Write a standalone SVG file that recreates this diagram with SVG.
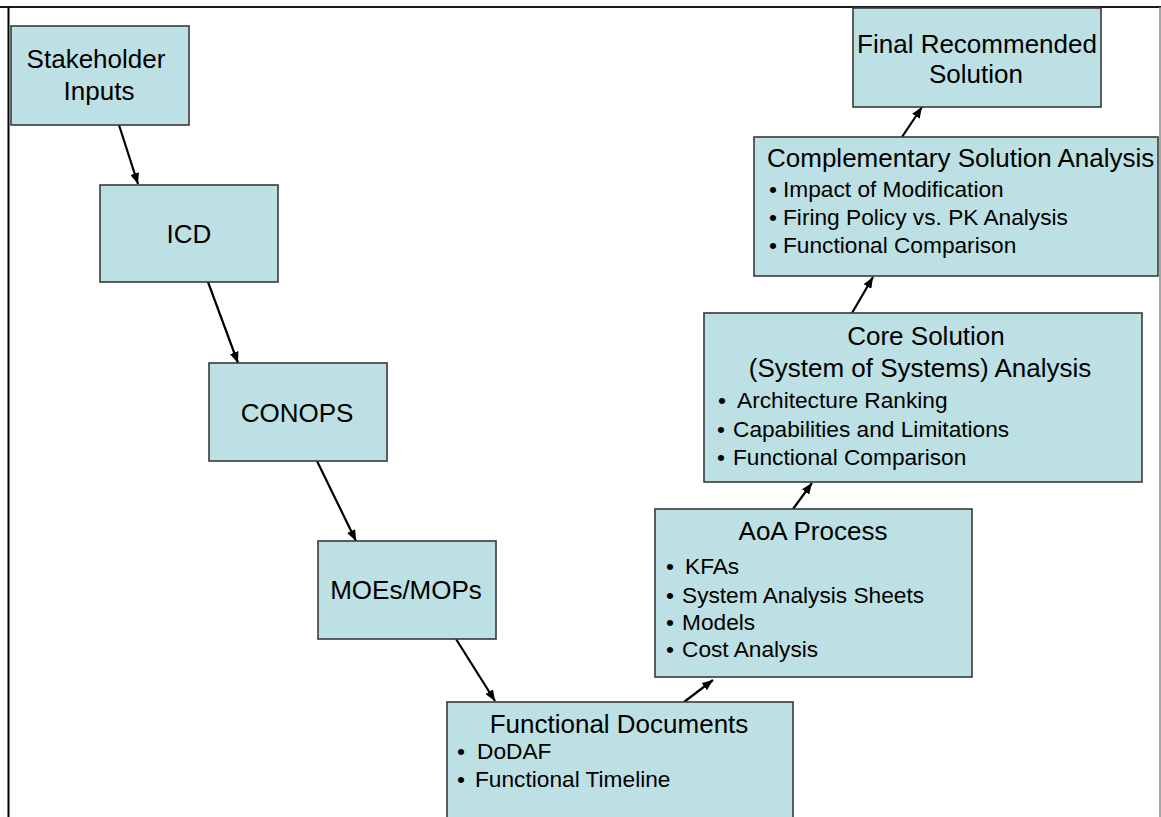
<svg xmlns="http://www.w3.org/2000/svg" width="1161" height="817" viewBox="0 0 1161 817">
  <defs>
    <marker id="arrow" viewBox="0 0 11 9" refX="11" refY="4.5" markerWidth="11" markerHeight="9" markerUnits="userSpaceOnUse" orient="auto">
      <path d="M0,0 L11,4.5 L0,9 z" fill="#000"/>
    </marker>
    <style>
      .box { fill: #bce0e3; stroke: #3a3a3a; stroke-width: 1.6; }
      .title { font-family: "Liberation Sans", Arial, sans-serif; font-size: 26px; fill: #000; text-anchor: middle; }
      .item { font-family: "Liberation Sans", Arial, sans-serif; font-size: 22.7px; fill: #000; }
      .bullet { text-anchor: middle; }
      .link { stroke: #000; stroke-width: 2.2; fill: none; marker-end: url(#arrow); }
    </style>
  </defs>

  <rect width="1161" height="817" fill="#fff"/>

  <!-- page frame -->
  <g id="frame">
    <line x1="0" y1="7" x2="1161" y2="7" stroke="#1a1a1a" stroke-width="2"/>
    <line x1="8.5" y1="7" x2="8.5" y2="817" stroke="#000" stroke-width="2"/>
    <line x1="1160" y1="7" x2="1160" y2="817" stroke="#8a8a8a" stroke-width="1.5"/>
  </g>

  <!-- connectors -->
  <g id="connectors">
    <line class="link" x1="119" y1="125" x2="138" y2="184"/>
    <line class="link" x1="208" y1="282" x2="238" y2="363"/>
    <line class="link" x1="317" y1="461" x2="356" y2="541"/>
    <line class="link" x1="456" y1="639" x2="495" y2="701"/>
    <line class="link" x1="684" y1="702" x2="713" y2="680"/>
    <line class="link" x1="793" y1="509" x2="812" y2="483"/>
    <line class="link" x1="852" y1="313" x2="873" y2="277"/>
    <line class="link" x1="902" y1="137" x2="922" y2="107"/>
  </g>

  <g id="stakeholder-inputs">
    <rect class="box" x="11" y="26" width="178" height="99"/>
    <text class="title" x="96" y="68">Stakeholder</text>
    <text class="title" x="99" y="100">Inputs</text>
  </g>

  <g id="icd">
    <rect class="box" x="100" y="185" width="178" height="97"/>
    <text class="title" x="189" y="243">ICD</text>
  </g>

  <g id="conops">
    <rect class="box" x="209" y="363" width="178" height="98"/>
    <text class="title" x="297" y="422">CONOPS</text>
  </g>

  <g id="moes-mops">
    <rect class="box" x="318" y="541" width="178" height="98"/>
    <text class="title" x="406" y="599">MOEs/MOPs</text>
  </g>

  <g id="functional-documents">
    <rect class="box" x="447" y="702" width="346" height="130"/>
    <text class="title" x="619" y="733">Functional Documents</text>
    <text class="item"><tspan class="bullet" x="461" y="759">•</tspan><tspan x="477" y="759">DoDAF</tspan></text>
    <text class="item"><tspan class="bullet" x="461" y="787">•</tspan><tspan x="475" y="787">Functional Timeline</tspan></text>
  </g>

  <g id="aoa-process">
    <rect class="box" x="655" y="509" width="317" height="168"/>
    <text class="title" x="813" y="540">AoA Process</text>
    <text class="item"><tspan class="bullet" x="670" y="574">•</tspan><tspan x="685" y="574">KFAs</tspan></text>
    <text class="item"><tspan class="bullet" x="670" y="603">•</tspan><tspan x="682" y="603">System Analysis Sheets</tspan></text>
    <text class="item"><tspan class="bullet" x="670" y="630">•</tspan><tspan x="682" y="630">Models</tspan></text>
    <text class="item"><tspan class="bullet" x="670" y="657">•</tspan><tspan x="682" y="657">Cost Analysis</tspan></text>
  </g>

  <g id="core-solution">
    <rect class="box" x="704" y="313" width="438" height="169"/>
    <text class="title" x="926" y="345">Core Solution</text>
    <text class="title" x="920" y="377">(System of Systems) Analysis</text>
    <text class="item"><tspan class="bullet" x="722" y="408">•</tspan><tspan x="737" y="408">Architecture Ranking</tspan></text>
    <text class="item"><tspan class="bullet" x="721" y="437">•</tspan><tspan x="733" y="437">Capabilities and Limitations</tspan></text>
    <text class="item"><tspan class="bullet" x="721" y="465">•</tspan><tspan x="733" y="465">Functional Comparison</tspan></text>
  </g>

  <g id="complementary-solution">
    <rect class="box" x="754" y="137" width="404" height="139"/>
    <text class="title" x="767" y="167" style="text-anchor:start">Complementary Solution Analysis</text>
    <text class="item"><tspan class="bullet" x="773" y="197">•</tspan><tspan x="783" y="197">Impact of Modification</tspan></text>
    <text class="item"><tspan class="bullet" x="773" y="225">•</tspan><tspan x="783" y="225">Firing Policy vs. PK Analysis</tspan></text>
    <text class="item"><tspan class="bullet" x="773" y="253">•</tspan><tspan x="783" y="253">Functional Comparison</tspan></text>
  </g>

  <g id="final-solution">
    <rect class="box" x="853" y="8" width="248" height="99"/>
    <text class="title" x="977" y="53">Final Recommended</text>
    <text class="title" x="976" y="83">Solution</text>
  </g>
</svg>
